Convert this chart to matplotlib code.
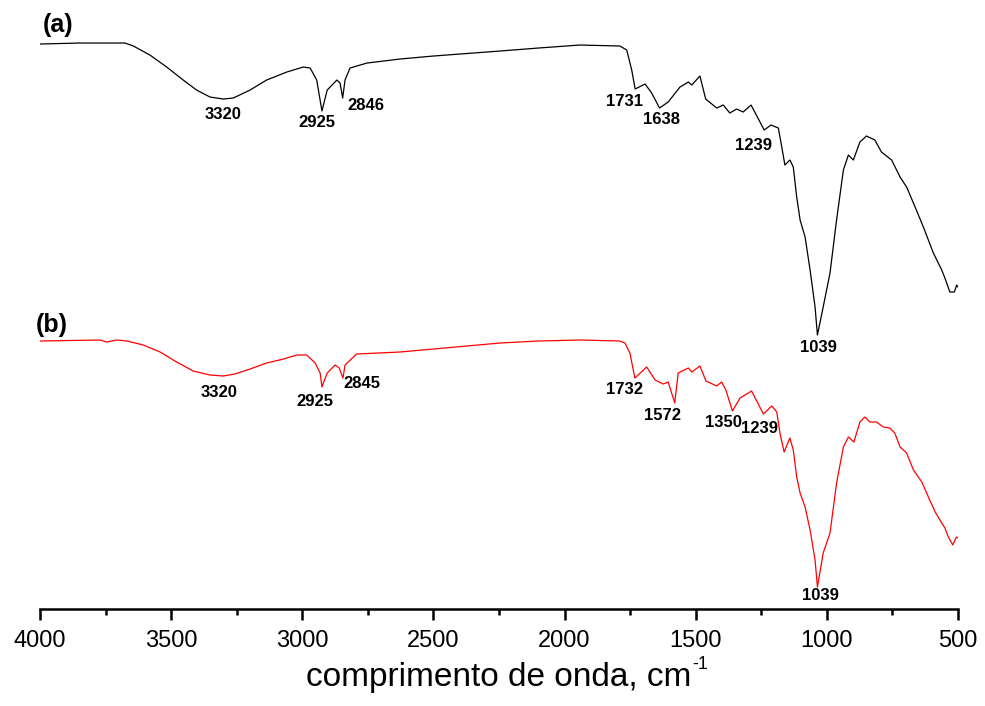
import matplotlib
matplotlib.use("Agg")
import matplotlib.pyplot as plt
from matplotlib.ticker import MultipleLocator

plt.rcParams['font.family'] = ['Liberation Sans', 'DejaVu Sans']

# spectrum (a), black: wavenumber (cm-1) and transmittance (a.u.)
wn_a = [4000, 3850, 3771, 3676, 3644, 3581, 3517, 3454, 3403, 3352, 3301, 3263,
        3199, 3136, 3059, 2996, 2970, 2945, 2925, 2905, 2868, 2856, 2846, 2837,
        2818, 2753, 2627, 2500, 2246, 2100, 1941, 1789, 1763, 1744, 1731, 1693,
        1668, 1638, 1605, 1560, 1528, 1515, 1484, 1462, 1420, 1395, 1370, 1344,
        1319, 1289, 1239, 1213, 1185, 1172, 1160, 1141, 1128, 1115, 1102, 1083,
        1064, 1045, 1036, 1014, 988, 963, 937, 918, 899, 874, 849, 817, 792, 753,
        721, 696, 670, 632, 594, 562, 550, 531, 514, 505, 500]
tr_a = [5.65, 5.66, 5.66, 5.66, 5.63, 5.54, 5.42, 5.29, 5.19, 5.12, 5.10, 5.11,
        5.19, 5.29, 5.37, 5.42, 5.41, 5.29, 4.98, 5.19, 5.29, 5.26, 5.11, 5.29,
        5.41, 5.46, 5.50, 5.53, 5.58, 5.61, 5.64, 5.63, 5.59, 5.39, 5.20, 5.25,
        5.16, 5.01, 5.07, 5.22, 5.27, 5.24, 5.33, 5.10, 5.01, 5.04, 4.96, 5.00,
        4.97, 5.04, 4.79, 4.84, 4.81, 4.62, 4.44, 4.49, 4.42, 4.12, 3.89, 3.72,
        3.39, 3.02, 2.74, 3.02, 3.36, 3.89, 4.39, 4.54, 4.49, 4.67, 4.73, 4.69, 4.57, 4.49,
        4.32, 4.22, 4.06, 3.82, 3.56, 3.39, 3.31, 3.17, 3.17, 3.24, 3.22]

# spectrum (b), red
wn_b = [4000, 3771, 3746, 3708, 3669, 3606, 3542, 3479, 3416, 3352, 3301, 3257,
        3199, 3136, 3072, 3021, 2983, 2951, 2932, 2925, 2905, 2875, 2859, 2845,
        2837, 2793, 2627, 2246, 2100, 1941, 1789, 1770, 1751, 1732, 1687, 1655,
        1624, 1605, 1580, 1567, 1528, 1515, 1484, 1461, 1420, 1401, 1385, 1360,
        1331, 1287, 1242, 1210, 1191, 1179, 1163, 1141, 1128, 1115, 1102, 1083,
        1064, 1045, 1036, 1014, 988, 963, 937, 918, 897, 874, 855, 836, 811, 785,
        760, 741, 721, 696, 670, 638, 613, 587, 562, 550, 537, 520, 506, 500]
tr_b = [2.68, 2.69, 2.67, 2.69, 2.68, 2.64, 2.57, 2.47, 2.38, 2.34, 2.33, 2.35,
        2.40, 2.46, 2.50, 2.54, 2.54, 2.46, 2.36, 2.22, 2.36, 2.44, 2.41, 2.31,
        2.44, 2.55, 2.57, 2.66, 2.68, 2.69, 2.68, 2.66, 2.56, 2.31, 2.42, 2.29,
        2.25, 2.27, 2.06, 2.36, 2.41, 2.37, 2.43, 2.28, 2.23, 2.27, 2.19, 1.98,
        2.11, 2.18, 1.95, 2.03, 1.97, 1.76, 1.57, 1.71, 1.59, 1.32, 1.16, 1.02,
        0.79, 0.49, 0.22, 0.56, 0.76, 1.26, 1.62, 1.72, 1.67, 1.87, 1.92, 1.87, 1.87, 1.82,
        1.81, 1.76, 1.62, 1.56, 1.39, 1.27, 1.12, 0.97, 0.86, 0.81, 0.72, 0.64, 0.72, 0.71]

# peak labels: text, x, y
peaks_a = [("3320", 3302, 4.95), ("2925", 2944, 4.87), ("2846", 2757, 5.04),
           ("1731", 1773, 5.08), ("1638", 1632, 4.90), ("1239", 1278, 4.64),
           ("1039", 1034, 2.62)]
peaks_b = [("3320", 3318, 2.17), ("2925", 2952, 2.08), ("2845", 2772, 2.26),
           ("1732", 1773, 2.20), ("1572", 1625, 1.94), ("1350", 1396, 1.87),
           ("1239", 1255, 1.81), ("1039", 1026, 0.13)]

fig = plt.figure(figsize=(9.85, 7.06), dpi=100)
ax = fig.add_axes([0.0406, 0.1374, 0.932, 0.8484])

ax.plot(wn_a, tr_a, color='black', lw=0.9)
ax.plot(wn_b, tr_b, color='red', lw=0.9)

for txt, x, y in peaks_a + peaks_b:
    ax.text(x, y, txt, ha='center', va='center', fontsize=12, fontweight='bold')

ax.text(3933, 5.84, "(a)", ha='center', va='center', fontsize=18, fontweight='bold')
ax.text(3954, 2.84, "(b)", ha='center', va='center', fontsize=18, fontweight='bold')

ax.set_xlim(4000, 500)
ax.set_ylim(0, 5.99)
for s in ['left', 'right', 'top']:
    ax.spines[s].set_visible(False)
ax.spines['bottom'].set_linewidth(1.8)
ax.set_yticks([])
ax.xaxis.set_major_locator(MultipleLocator(500))
ax.xaxis.set_minor_locator(MultipleLocator(250))
ax.tick_params(axis='x', which='major', direction='out', length=8, width=1.8,
               labelsize=17, pad=7)
ax.tick_params(axis='x', which='minor', direction='out', length=4, width=1.8)
xl = ax.set_xlabel('comprimento de onda, cm', fontsize=24, labelpad=7)

# superscript "-1" with a plain hyphen, placed after the label
fig.canvas.draw()
bb = xl.get_window_extent()
fig.text((bb.x1 + 1) / fig.bbox.width, (bb.y0 + 24) / fig.bbox.height, '-1',
         fontsize=13, ha='left', va='baseline')

fig.savefig('out.png', dpi=100)
